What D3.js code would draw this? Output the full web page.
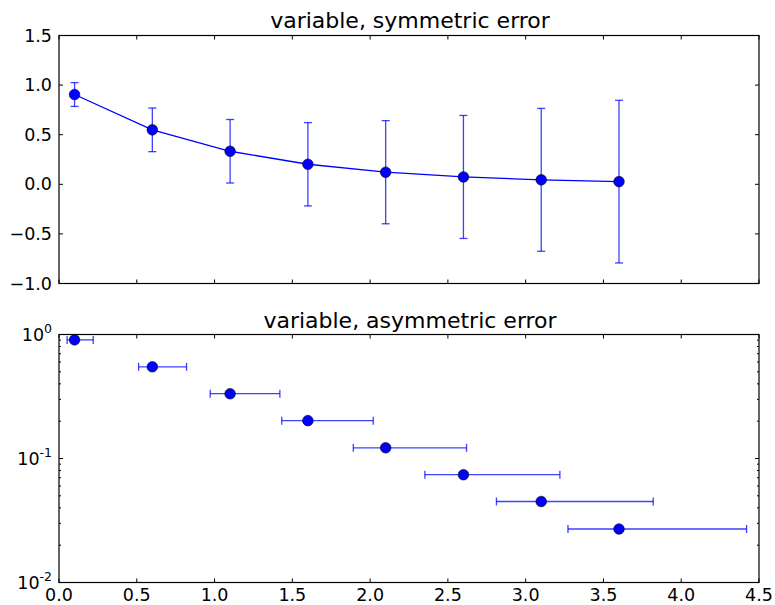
<!DOCTYPE html>
<html>
<head>
<meta charset="utf-8">
<script src="https://d3js.org/d3.v7.min.js"></script>
<style>
  body { margin:0; background:#fff; }
  text { font-family: 'DejaVu Sans', sans-serif; fill:#000; }
  .tick-label { font-size:17.5px; }
  .title { font-size:22px; }
</style>
</head>
<body>
<script>
// data
var xs = [0.1, 0.6, 1.1, 1.6, 2.1, 2.6, 3.1, 3.6];
var ys = [0.905, 0.549, 0.333, 0.202, 0.122, 0.074, 0.045, 0.027];
var errUpper = [0.12, 0.22, 0.32, 0.42, 0.52, 0.62, 0.72, 0.82];
var errLower = [0.048, 0.088, 0.128, 0.168, 0.208, 0.248, 0.288, 0.328];
var xTicks = [0, 0.5, 1, 1.5, 2, 2.5, 3, 3.5, 4, 4.5];
var yTicksTop = [-1, -0.5, 0, 0.5, 1, 1.5];
var yTicksLog = [0.01, 0.1, 1];

var W = 775, H = 605;
var left = 59, right = 759;
var top1 = 35.5, bot1 = 283.5;
var top2 = 334.5, bot2 = 582.5;
var blue = "#0000ff", errColor = "rgba(0,0,255,0.75)";

var svg = d3.select("body").append("svg").attr("width", W).attr("height", H);

var x = d3.scaleLinear().domain([0, 4.5]).range([left, right]);
var y1 = d3.scaleLinear().domain([-1, 1.5]).range([bot1, top1]);
var y2 = d3.scaleLog().domain([0.01, 1]).range([bot2, top2]);

var data = xs.map((d, i) => ({x: d, y: ys[i], e: errUpper[i], lo: errLower[i]}));

function frame(t, b, yscale, yticks, logScale) {
  var g = svg.append("g");
  // x ticks inside, top and bottom
  xTicks.forEach(v => {
    g.append("line").attr("x1", x(v)).attr("x2", x(v)).attr("y1", b).attr("y2", b - 4).attr("stroke", "#000");
    g.append("line").attr("x1", x(v)).attr("x2", x(v)).attr("y1", t).attr("y2", t + 4).attr("stroke", "#000");
  });
  yticks.forEach(v => {
    g.append("line").attr("x1", left).attr("x2", left + 4).attr("y1", yscale(v)).attr("y2", yscale(v)).attr("stroke", "#000");
    g.append("line").attr("x1", right).attr("x2", right - 4).attr("y1", yscale(v)).attr("y2", yscale(v)).attr("stroke", "#000");
  });
  if (logScale) {
    var minor = [];
    [0.01, 0.1].forEach(base => { for (var k = 2; k <= 9; k++) minor.push(base * k); });
    minor.forEach(v => {
      g.append("line").attr("x1", left).attr("x2", left + 2).attr("y1", y2(v)).attr("y2", y2(v)).attr("stroke", "#000");
      g.append("line").attr("x1", right).attr("x2", right - 2).attr("y1", y2(v)).attr("y2", y2(v)).attr("stroke", "#000");
    });
  }
  g.append("rect").attr("x", left).attr("y", t).attr("width", right - left).attr("height", b - t)
    .attr("fill", "none").attr("stroke", "#000").attr("stroke-width", 1.2);
}

// ---- top panel: symmetric error ----
frame(top1, bot1, y1, yTicksTop, false);
svg.append("g").selectAll("text").data(yTicksTop).enter().append("text")
  .attr("class", "tick-label").attr("x", left - 7).attr("y", d => y1(d) + 6)
  .attr("text-anchor", "end").text(d => d3.format(".1f")(d).replace("-", "\u2212"));
svg.append("text").attr("class", "title").attr("x", (left + right) / 2 + 1).attr("y", top1 - 8)
  .attr("text-anchor", "middle").text("variable, symmetric error");

var eb1 = svg.append("g").attr("stroke", errColor).attr("stroke-width", 1.3);
data.forEach(d => {
  eb1.append("line").attr("x1", x(d.x)).attr("x2", x(d.x)).attr("y1", y1(d.y - d.e)).attr("y2", y1(d.y + d.e));
  eb1.append("line").attr("x1", x(d.x) - 4).attr("x2", x(d.x) + 4).attr("y1", y1(d.y - d.e)).attr("y2", y1(d.y - d.e));
  eb1.append("line").attr("x1", x(d.x) - 4).attr("x2", x(d.x) + 4).attr("y1", y1(d.y + d.e)).attr("y2", y1(d.y + d.e));
});
svg.append("path").datum(data).attr("fill", "none").attr("stroke", blue).attr("stroke-width", 1.3)
  .attr("d", d3.line().x(d => x(d.x)).y(d => y1(d.y)));
svg.append("g").selectAll("circle").data(data).enter().append("circle")
  .attr("cx", d => x(d.x)).attr("cy", d => y1(d.y)).attr("r", 5.3)
  .attr("fill", blue).attr("stroke", "#000").attr("stroke-width", 0.6);

// ---- bottom panel: asymmetric x error, log y ----
frame(top2, bot2, y2, yTicksLog, true);
var exps = {0.01: "-2", 0.1: "-1", 1: "0"};
yTicksLog.forEach(v => {
  var t = svg.append("text").attr("class", "tick-label").attr("x", left - 7).attr("y", y2(v) + 6).attr("text-anchor", "end");
  t.append("tspan").text("10");
  t.append("tspan").attr("dy", -8).attr("font-size", "12.5px").text(exps[v]);
});
svg.append("g").selectAll("text").data(xTicks).enter().append("text")
  .attr("class", "tick-label").attr("x", d => x(d)).attr("y", bot2 + 18.5)
  .attr("text-anchor", "middle").text(d => d3.format(".1f")(d));
svg.append("text").attr("class", "title").attr("x", (left + right) / 2 + 1).attr("y", top2 - 7)
  .attr("text-anchor", "middle").text("variable, asymmetric error");

var eb2 = svg.append("g").attr("stroke", errColor).attr("stroke-width", 1.3);
data.forEach(d => {
  var yy = y2(d.y);
  eb2.append("line").attr("x1", x(d.x - d.lo)).attr("x2", x(d.x + d.e)).attr("y1", yy).attr("y2", yy);
  eb2.append("line").attr("x1", x(d.x - d.lo)).attr("x2", x(d.x - d.lo)).attr("y1", yy - 4).attr("y2", yy + 4);
  eb2.append("line").attr("x1", x(d.x + d.e)).attr("x2", x(d.x + d.e)).attr("y1", yy - 4).attr("y2", yy + 4);
});
svg.append("g").selectAll("circle").data(data).enter().append("circle")
  .attr("cx", d => x(d.x)).attr("cy", d => y2(d.y)).attr("r", 5.3)
  .attr("fill", blue).attr("stroke", "#000").attr("stroke-width", 0.6);
</script>
</body>
</html>
